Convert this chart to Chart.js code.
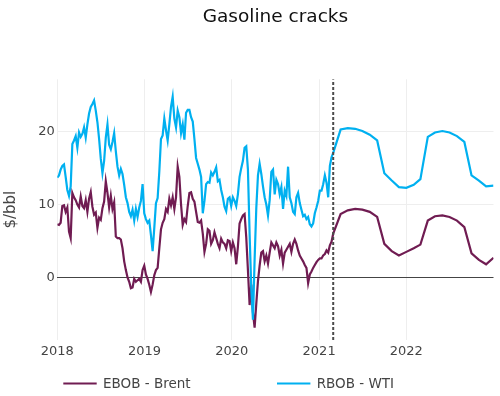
<!DOCTYPE html>
<html>
<head>
<meta charset="utf-8">
<script src="https://cdn.jsdelivr.net/npm/chart.js@4/dist/chart.umd.min.js"></script>
<style>
  html, body { margin: 0; padding: 0; background: #fff; }
  #c { display: block; }
</style>
</head>
<body>
<canvas id="c" width="500" height="396"></canvas>
<script>
// ---------- DATA ----------
const seriesNames = ['EBOB - Brent', 'RBOB - WTI'];
const histStart = '2018-01-01';      // weekly observations from this date
const forecastStart = '2021-03-01';  // dashed marker

const ebobHist = [
  7.3, 7.2, 7.5, 9.8, 9.9, 9.0, 9.6, 6.3, 5.4, 11.6,
  11.0, 10.6, 10.0, 9.6, 11.1, 9.8, 9.5, 10.6, 9.0, 10.8,
  11.7, 9.7, 8.6, 8.9, 6.8, 8.2, 7.9, 9.5, 10.4, 13.2,
  11.6, 9.6, 11.2, 9.4, 10.3, 5.6, 5.4, 5.4, 5.2, 4.0,
  2.2, 1.0,
  0.0, -0.6, -1.5, -1.4, -0.2, -0.6, -0.4, -0.2, -0.6, 1.0,
  1.6, 0.4, -0.2, -1.0, -2.0, -1.0, 0.3, 1.0, 1.3, 4.0,
  6.6, 7.5, 8.0, 9.4, 9.0, 10.8, 9.9, 11.0, 9.4, 11.0,
  15.2, 13.8, 10.0, 7.2, 8.0, 7.6, 9.8, 11.6, 11.7, 10.8,
  10.4, 9.0,
  7.6, 7.5, 7.8, 6.0, 3.5, 4.6, 6.6, 6.4, 4.6, 5.1,
  6.2, 5.4, 4.6, 4.0, 5.3, 4.8, 4.6, 4.0, 5.1, 5.0,
  3.6, 4.8, 4.0, 1.8, 4.2, 7.4, 8.0, 8.5, 8.7, 5.5,
  1.0, -3.8, -1.0, -4.8, -6.9, -3.6, -0.5, 1.6, 3.4, 3.6,
  2.2, 3.0,
  1.9, 3.4, 4.8, 4.4, 4.0, 4.8, 4.3, 3.0, 3.8, 1.9,
  3.4, 3.8, 4.2, 4.6, 3.5, 4.6, 5.2, 4.6, 3.7, 3.0,
  2.6, 2.2, 1.7, 1.3, -0.8, 0.4, 0.8, 1.3, 1.7, 2.1,
  2.4, 2.6, 2.6, 3.0, 3.2, 3.7, 3.4, 4.4, 4.9
];

const rbobHist = [
  13.7, 14.0, 14.8, 15.3, 15.5, 13.8, 12.0, 11.2, 12.5, 18.3,
  18.8, 19.4, 17.8, 19.9, 19.3, 19.7, 20.6, 19.2, 21.0, 22.5,
  23.4, 23.8, 24.3, 22.9, 21.3, 19.0, 16.3, 14.3, 16.0, 19.2,
  21.0, 18.2, 17.6, 18.6, 19.8, 17.3, 15.2, 14.0, 14.9, 14.2,
  12.7, 11.0,
  10.2, 9.0, 8.4, 9.3, 7.8, 9.4, 8.3, 9.6, 10.5, 12.8,
  8.8, 8.0, 7.5, 7.8, 5.8, 3.6, 6.8, 10.2, 10.9, 14.5,
  19.0, 19.5, 21.8, 20.2, 18.8, 21.0, 23.4, 24.8, 21.8, 20.6,
  22.9, 22.0, 19.8, 21.0, 18.9, 22.6, 23.0, 23.0, 22.0, 21.4,
  19.0, 16.4,
  15.6, 14.8, 13.8, 8.8, 10.5, 12.8, 13.1, 13.0, 14.4, 14.0,
  14.5, 15.1, 13.2, 13.4, 12.0, 11.0, 9.7, 9.1, 10.8, 11.0,
  9.8, 11.0, 10.5, 9.8, 11.4, 13.8, 15.0, 16.0, 17.8, 18.0,
  14.8, 6.0, -1.5, -5.8, 2.5, 9.5, 14.0, 15.6, 14.2, 12.5,
  11.0, 10.0,
  8.5, 10.6, 14.5, 14.8, 11.4, 13.4, 12.8, 11.4, 12.4, 9.4,
  11.9, 11.2, 15.2, 11.0, 10.2, 9.0, 8.7, 11.0, 11.6, 10.2,
  9.3, 8.4, 8.6, 8.0, 8.3, 7.3, 7.0, 7.4, 8.8, 9.6,
  10.5, 11.9, 11.9, 12.8, 14.0, 13.0, 11.0, 15.3, 16.5
];

const forecastMonths = [
  '2021-03', '2021-04', '2021-05', '2021-06', '2021-07', '2021-08', '2021-09',
  '2021-10', '2021-11', '2021-12', '2022-01', '2022-02', '2022-03', '2022-04',
  '2022-05', '2022-06', '2022-07', '2022-08', '2022-09', '2022-10', '2022-11',
  '2022-12', '2023-01'
];
const ebobForecast = [
  6.0, 8.7, 9.2, 9.4, 9.3, 9.0, 8.3, 4.6, 3.6, 3.0, 3.5, 4.0,
  4.5, 7.8, 8.4, 8.5, 8.3, 7.8, 6.9, 3.3, 2.4, 1.8, 2.7
];
const rbobForecast = [
  17.1, 20.3, 20.5, 20.4, 20.1, 19.6, 18.8, 14.3, 13.3, 12.4, 12.3, 12.7,
  13.5, 19.3, 19.9, 20.1, 19.9, 19.4, 18.6, 14.0, 13.3, 12.5, 12.6
];

const yearTicks = ['2018', '2019', '2020', '2021', '2022'];
const yTickValues = [0, 10, 20];
const yRange = [-8.6, 27.2];
const xRange = ['2018-01-01', '2023-01-01'];

// ---------- BUILD ----------
const toMs = s => Date.parse((s.length === 7 ? s + '-01' : s) + 'T00:00:00Z');
const WEEK = 7 * 864e5;
const histX = ebobHist.map((_, i) => toMs(histStart) + i * WEEK);
const toPoints = (hist, fc) =>
  hist.map((v, i) => ({ x: histX[i], y: v }))
    .concat(fc.map((v, i) => ({ x: toMs(forecastMonths[i]), y: v })));

const colors = ['#701c52', '#00b0f0'];
const FONT = 'DejaVu Sans';

const customLegend = {
  id: 'customLegend',
  afterDraw(chart) {
    const ctx = chart.ctx;
    const y = 383.5;
    const starts = [63.3, 277];
    ctx.save();
    ctx.font = '13.5px "' + FONT + '"';
    ctx.textBaseline = 'middle';
    ctx.textAlign = 'left';
    seriesNames.forEach((name, i) => {
      const x0 = starts[i];
      ctx.strokeStyle = colors[i];
      ctx.lineWidth = 2;
      ctx.beginPath();
      ctx.moveTo(x0, y);
      ctx.lineTo(x0 + 33.4, y);
      ctx.stroke();
      ctx.fillStyle = '#444';
      ctx.fillText(name, x0 + 39.7, y + 0.5);
    });
    ctx.restore();
  }
};

new Chart(document.getElementById('c'), {
  type: 'line',
  data: {
    datasets: [
      {
        label: 'forecast-start',
        data: [{ x: toMs(forecastStart), y: yRange[0] }, { x: toMs(forecastStart), y: yRange[1] }],
        borderColor: '#4a4a4a',
        borderWidth: 2,
        borderDash: [3, 2],
        pointRadius: 0,
        order: 0
      },
      {
        label: seriesNames[0],
        data: toPoints(ebobHist, ebobForecast),
        borderColor: colors[0],
        borderWidth: 2.2,
        pointRadius: 0,
        tension: 0,
        order: 2
      },
      {
        label: seriesNames[1],
        data: toPoints(rbobHist, rbobForecast),
        borderColor: colors[1],
        borderWidth: 2.2,
        pointRadius: 0,
        tension: 0,
        order: 1
      }
    ]
  },
  options: {
    responsive: false,
    devicePixelRatio: 1,
    animation: false,
    layout: { padding: { left: 0, right: 6.5, top: 0, bottom: 36 } },
    plugins: {
      legend: { display: false },
      tooltip: { enabled: false },
      title: {
        display: true,
        text: 'Gasoline cracks',
        fullSize: false,
        color: '#111',
        font: { family: FONT, size: 18.5, weight: 'normal' },
        padding: { top: 6.2, bottom: 50.9 }
      }
    },
    scales: {
      x: {
        type: 'linear',
        min: toMs(xRange[0]),
        max: toMs(xRange[1]),
        afterBuildTicks: s => { s.ticks = yearTicks.map(t => ({ value: toMs(t + '-01-01') })); },
        afterFit: s => { s.height = 20; },
        grid: { color: '#eee', lineWidth: 1, drawTicks: false },
        border: { display: false },
        ticks: {
          callback: (v, i) => yearTicks[i],
          autoSkip: false,
          maxRotation: 0,
          padding: 4,
          color: '#444',
          font: { family: FONT, size: 13 }
        }
      },
      y: {
        min: yRange[0],
        max: yRange[1],
        afterBuildTicks: s => { s.ticks = yTickValues.map(v => ({ value: v })); },
        afterFit: s => { s.width = 57.3; },
        grid: {
          color: c => (c.tick && c.tick.value === 0 ? '#444' : '#eee'),
          lineWidth: 1,
          drawTicks: false
        },
        border: { display: false },
        ticks: {
          padding: 2.5,
          color: '#444',
          font: { family: FONT, size: 13 }
        },
        title: {
          display: true,
          text: '$/bbl',
          color: '#444',
          font: { family: FONT, size: 15 },
          padding: { top: 2, bottom: 0 }
        }
      }
    }
  },
  plugins: [customLegend]
});
</script>
</body>
</html>
